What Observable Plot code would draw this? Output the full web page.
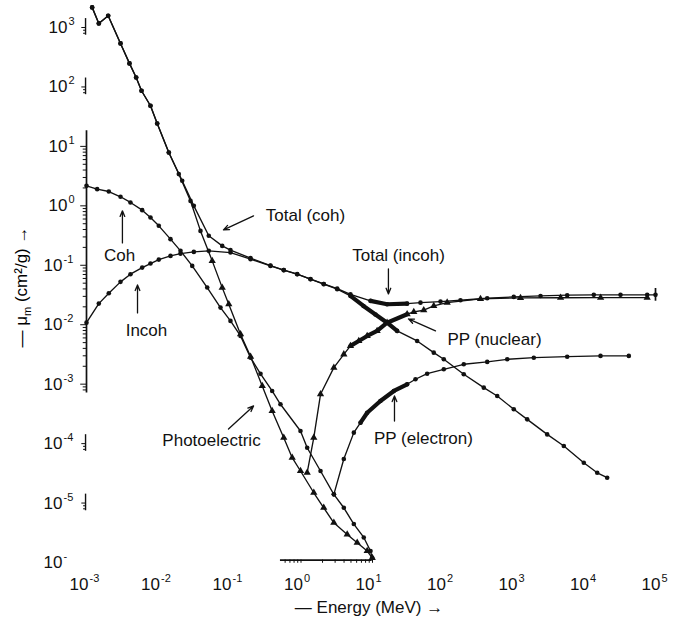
<!DOCTYPE html>
<html><head><meta charset="utf-8">
<script src="https://cdn.jsdelivr.net/npm/d3@7"></script>
<script src="https://cdn.jsdelivr.net/npm/@observablehq/plot@0.6"></script>
<style>
body{margin:0;background:#fff;}
#chart svg{display:block;}
</style></head><body><div id="chart"></div>
<script>
// ---- data (Energy in MeV, mass coefficient in cm^2/g) ----
const photoE = [0.0012, 0.001486, 0.00201, 0.00299, 0.00399, 0.00495, 0.00588, 0.00785, 0.00975, 0.01416, 0.01954, 0.0285, 0.0393, 0.0573, 0.0791, 0.0977, 0.1426, 0.197, 0.287, 0.395, 0.574, 0.753, 0.984, 1.51, 2.08, 2.88, 4.43, 6.11, 8.43, 9.91];
const photoMu = [2180, 1172, 1580, 540, 249, 144.5, 86.3, 48.3, 24.3, 7.89, 3.42, 1.21, 0.379, 0.1186, 0.0421, 0.0221, 0.00692, 0.00291, 0.000933, 0.000354, 0.000126, 5.79e-5, 3.46e-5, 1.49e-5, 8.33e-6, 4.66e-6, 2.97e-6, 2.15e-6, 1.56e-6, 1.2e-6];

const cohE = [0.001, 0.00141, 0.00205, 0.00299, 0.00412, 0.00601, 0.00785, 0.01026, 0.01496, 0.02065, 0.0301, 0.0488, 0.0748, 0.1032, 0.1426, 0.197, 0.2716, 0.395, 0.516, 0.984, 1.22, 1.875, 2.88, 3.97, 5.48, 7.55, 9.38, 9.91];
const cohMu = [2.17, 1.91, 1.74, 1.42, 1.14, 0.846, 0.635, 0.461, 0.275, 0.175, 0.0977, 0.0422, 0.0194, 0.0116, 0.00648, 0.00279, 0.00149, 7.69e-4, 4.59e-4, 1.63e-4, 8.53e-5, 3.46e-5, 1.40e-5, 8.33e-6, 4.43e-6, 2.64e-6, 1.56e-6, 1.2e-6];

const incohE = [0.001, 0.001486, 0.00205, 0.00299, 0.00412, 0.00601, 0.00785, 0.01026, 0.01496, 0.02065, 0.0317, 0.0513, 0.1032, 0.197, 0.374, 0.574, 0.885, 1.358, 2.08, 3.21, 4.92, 7.48, 11.0, 16, 22.1, 42.1, 71.9, 99.3, 189, 360, 555, 946, 1458, 2775, 4740, 9020, 13890, 19150];
const incohMu = [0.01084, 0.02265, 0.0339, 0.0526, 0.0708, 0.0914, 0.1069, 0.1247, 0.1439, 0.1573, 0.168, 0.1747, 0.1636, 0.1267, 0.0977, 0.0828, 0.0708, 0.0583, 0.0481, 0.0396, 0.0305, 0.0207, 0.0149, 0.0108, 0.00787, 0.00533, 0.00339, 0.00262, 0.00147, 8.73e-4, 6.33e-4, 3.78e-4, 2.56e-4, 1.43e-4, 9.12e-5, 4.77e-5, 3.23e-5, 2.67e-5];

const totalE = [0.0012, 0.001486, 0.00201, 0.00299, 0.00399, 0.00495, 0.00588, 0.00785, 0.00975, 0.01416, 0.0218, 0.0317, 0.0513, 0.0791, 0.1032, 0.197, 0.374, 0.574, 0.885, 1.358, 2.08, 3.21, 4.92, 9.38, 16, 30.5, 46.9, 89.3, 170, 402, 946, 2239, 5284, 12450, 29430, 69500, 90800];
const totalMu = [2180, 1172, 1580, 540, 249, 144.5, 86.3, 48.3, 24.3, 7.89, 2.64, 1.0, 0.313, 0.212, 0.18, 0.132, 0.099, 0.083, 0.071, 0.0585, 0.0485, 0.0405, 0.0325, 0.0252, 0.0221, 0.0226, 0.0235, 0.0245, 0.0258, 0.0279, 0.0294, 0.0305, 0.0314, 0.0318, 0.0318, 0.0318, 0.0318];

const ppnE = [1.22, 1.51, 1.875, 2.88, 3.97, 4.92, 6.43, 8.43, 11.6, 16, 30.5, 37.8, 52.1, 71.9, 110.7, 324, 1175, 4270, 15500, 69500];
const ppnMu = [3.24e-5, 1.26e-4, 6.76e-4, 1.90e-3, 3.18e-3, 4.40e-3, 5.33e-3, 6.47e-3, 7.87e-3, 0.0108, 0.01503, 0.0164, 0.01754, 0.0207, 0.0236, 0.0272, 0.0283, 0.0284, 0.0285, 0.0285];

const ppeE = [2.88, 3.97, 5.48, 6.80, 8.43, 12.9, 19.9, 30.5, 39.9, 58.1, 99.3, 189, 402, 766, 1803, 5284, 15450, 38460];
const ppeMu = [1.40e-5, 5.51e-5, 1.53e-4, 2.25e-4, 3.31e-4, 5.21e-4, 7.69e-4, 9.96e-4, 1.21e-3, 1.50e-3, 1.78e-3, 2.16e-3, 2.37e-3, 2.62e-3, 2.79e-3, 2.90e-3, 2.99e-3, 2.99e-3];

// tick labels
const xExponents = [-3, -2, -1, 0, 1, 2, 3, 4, 5];
const xExpLabels = ["-3", "-2", "-1", "0", "1", "2", "3", "4", "5"];
const yExponents = [3, 2, 1, 0, -1, -2, -3, -4, -5, -6];
const yExpLabels = ["3", "2", "1", "0", "-1", "-2", "-3", "-4", "-5", "-"];

// annotations (placed in data coordinates)
const annoText = ["Total (coh)", "Total (incoh)", "PP (nuclear)", "PP (electron)", "Photoelectric", "Coh", "Incoh"];
const annoE = [1.156, 23.1, 508, 51.6, 0.056, 2.9e-3, 6.9e-3];
const annoMu = [0.679, 0.144, 5.55e-3, 1.24e-4, 1.11e-4, 0.144, 7.87e-3];
const arrowE1 = [0.217, 16.7, 76, 20.3, 0.0968, 3.18e-3, 5.17e-3];
const arrowMu1 = [0.679, 0.0869, 7.86e-3, 2.4e-4, 1.76e-4, 0.238, 0.0158];
const arrowE2 = [0.0824, 16.7, 31.8, 20.3, 0.217, 3.18e-3, 5.17e-3];
const arrowMu2 = [0.394, 0.033, 0.01252, 6.33e-4, 4.30e-4, 0.824, 0.0468];

// ---- build tables ----
function series(name, E, M) { return E.map((e, i) => ({name, E: e, mu: M[i]})); }
const photo = series("Photoelectric", photoE, photoMu);
const coh = series("Coh", cohE, cohMu);
const incoh = series("Incoh", incohE, incohMu);
const total = series("Total", totalE, totalMu);
const ppn = series("PP nuclear", ppnE, ppnMu);
const ppe = series("PP electron", ppeE, ppeMu);
const all = [...photo, ...coh, ...incoh, ...total, ...ppn, ...ppe];

const boldRanges = {"Total": [5.2, 31], "Incoh": [4.9, 23], "PP nuclear": [4.5, 36], "PP electron": [6.5, 31]};
const bold = all.filter(d => boldRanges[d.name] && d.E >= boldRanges[d.name][0] && d.E <= boldRanges[d.name][1]);

// triangle markers on the lower photoelectric branch and on PP (nuclear)
const isTri = d => (d.name === "Photoelectric" && d.E > 0.05) || d.name === "PP nuclear";

const annos = annoText.map((t, i) => ({t, E: annoE[i], mu: annoMu[i], E1: arrowE1[i], m1: arrowMu1[i], E2: arrowE2[i], m2: arrowMu2[i]}));

const yLab = yExponents.map((k, i) => ({k, s: yExpLabels[i]}));
const yLabNeg = yLab.filter(d => d.k < 0);
const yLabPos = yLab.filter(d => d.k >= 0);
const xLab = xExponents.map((k, i) => ({k, s: xExpLabels[i]}));

// axis decoration
const yAxisTicks = [];
for (let k = -4; k <= 1; k++) for (let m = 1; m <= 9; m++) {
  const v = m * 10 ** k;
  if (v >= 8e-4 && v <= 12) yAxisTicks.push({v, major: m === 1});
}
const clusterTicks = [];
const clusterDecades = [3, 2, -4, -5];
for (const k of clusterDecades) for (const m of [0.8, 0.9, 1]) clusterTicks.push({v: m * 10 ** k, major: m === 1});
const bottomTicks = [];
for (let k = -1; k <= 1; k++) for (let m = 1; m <= 9; m++) {
  const v = m * 10 ** k;
  if (v >= 0.55 && v <= 10) bottomTicks.push(v);
}

const FONT = "Liberation Sans, Arial, Helvetica, sans-serif";
const INK = "#111";
const x0 = 1e-3;
const yLo = 1e-6;

const plot = Plot.plot({
  width: 683, height: 627, margin: 0,
  x: {type: "log", domain: [1e-3, 1e5], range: [86, 658], axis: null},
  y: {type: "log", domain: [1e-6, 1e3], range: [562, 27], axis: null},
  style: {fontFamily: FONT, background: "#fff", color: INK},
  marks: [
    // left axis line and ticks
    Plot.ruleX([x0], {y1: 7.1e-4, y2: 18.3, stroke: INK, strokeWidth: 1.7}),
    Plot.ruleY(yAxisTicks, {y: "v", x1: d => x0 * (d.major ? 0.83 : 0.9), x2: x0, stroke: INK, strokeWidth: 1}),
    ...clusterDecades.map(k => Plot.ruleX([x0 * 0.97], {y1: 10 ** (k - 0.13), y2: 10 ** (k + 0.15), stroke: INK, strokeWidth: 1.4})),
    Plot.ruleY(clusterTicks, {y: "v", x1: d => x0 * (d.major ? 0.86 : 0.91), x2: x0 * 0.97, stroke: INK, strokeWidth: 1}),
    // bottom partial axis segment
    Plot.ruleY([1.1e-6], {x1: 0.516, x2: 9.91, stroke: INK, strokeWidth: 1.7}),
    Plot.ruleX(bottomTicks, {x: d => d, y1: 1.1e-6, y2: 0.97e-6, stroke: INK, strokeWidth: 1}),
    // curves
    Plot.line(all, {x: "E", y: "mu", z: "name", stroke: INK, strokeWidth: 1.35}),
    Plot.line(bold, {x: "E", y: "mu", z: "name", stroke: INK, strokeWidth: 4.2, strokeLinecap: "round"}),
    Plot.dot(all.filter(isTri), {x: "E", y: "mu", symbol: "triangle", r: 2.7, fill: INK}),
    Plot.dot(all.filter(d => !isTri(d)), {x: "E", y: "mu", r: 2.3, fill: INK}),
    // end bar on total
    Plot.ruleX([total[total.length - 1]], {x: "E", y1: d => d.mu * 1.28, y2: d => d.mu / 1.28, stroke: INK, strokeWidth: 1.7}),
    // annotations
    Plot.arrow(annos, {x1: "E1", y1: "m1", x2: "E2", y2: "m2", stroke: INK, strokeWidth: 1.3, headLength: 7, headAngle: 45}),
    Plot.text(annos, {x: "E", y: "mu", text: "t", fontSize: 17, fill: INK}),
    // x tick labels
    Plot.text(xLab, {x: d => 10 ** d.k, y: () => yLo, text: () => "10", textAnchor: "end", dx: 2, dy: 22, fontSize: 17, fill: INK}),
    Plot.text(xLab, {x: d => 10 ** d.k, y: () => yLo, text: "s", textAnchor: "start", dx: 3, dy: 16, fontSize: 11, fill: INK}),
    // y tick labels
    Plot.text(yLabNeg, {x: () => x0, y: d => 10 ** d.k, text: () => "10", textAnchor: "end", dx: -24, fontSize: 17, fill: INK}),
    Plot.text(yLabNeg, {x: () => x0, y: d => 10 ** d.k, text: "s", textAnchor: "start", dx: -23, dy: -6, fontSize: 11, fill: INK}),
    Plot.text(yLabPos, {x: () => x0, y: d => 10 ** d.k, text: () => "10", textAnchor: "end", dx: -19, fontSize: 17, fill: INK}),
    Plot.text(yLabPos, {x: () => x0, y: d => 10 ** d.k, text: "s", textAnchor: "start", dx: -18, dy: -6, fontSize: 11, fill: INK})
  ]
});

// axis titles (text with sub/superscripts)
const svg = d3.select(plot);
const yt = svg.append("text")
  .attr("transform", "translate(27,287) rotate(-90)")
  .attr("text-anchor", "middle").attr("font-family", FONT).attr("font-size", 17)
  .attr("fill", "#000").style("fill", "#000");
yt.append("tspan").text("— μ");
yt.append("tspan").attr("font-size", 11).attr("dy", 4).text("m");
yt.append("tspan").attr("dy", -4).text(" (cm²/g) →");
svg.append("text")
  .attr("x", 369).attr("y", 613)
  .attr("text-anchor", "middle").attr("font-family", FONT).attr("font-size", 17)
  .attr("fill", INK)
  .text("— Energy (MeV) →");

document.getElementById("chart").append(plot);
</script>
</body></html>
